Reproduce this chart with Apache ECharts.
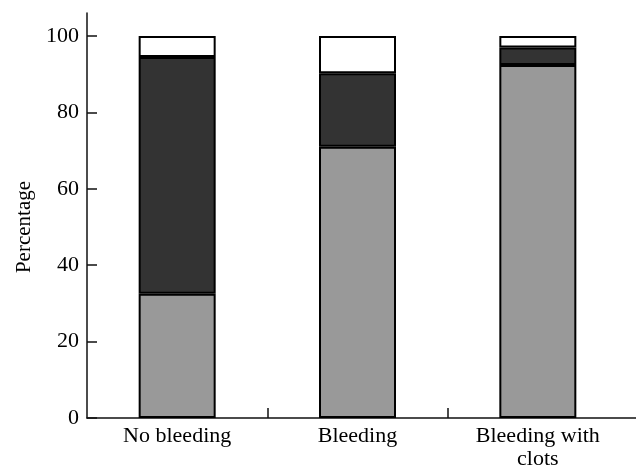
<!DOCTYPE html>
<html>
<head>
<meta charset="utf-8">
<script src="https://cdn.jsdelivr.net/npm/echarts@6/dist/echarts.min.js"></script>
<style>
html,body{margin:0;padding:0;background:#fff;}
#chart{width:636px;height:471px;}
</style>
</head>
<body>
<div id="chart"></div>
<script>
var categories = ['No bleeding', 'Bleeding', 'Bleeding with\nclots'];
var lightValues = [32.5, 71, 92.4];
var darkValues = [62, 19.2, 4.6];
var whiteValues = [5.5, 9.8, 3.0];
var yTicks = [0, 20, 40, 60, 80, 100];
var yTitle = 'Percentage';

var FONT = 'Liberation Serif';
var chart = echarts.init(document.getElementById('chart'), null, {renderer: 'canvas'});

function seg(name, data, color) {
  return {
    name: name, type: 'bar', stack: 'total', data: data,
    xAxisIndex: 0, yAxisIndex: 0,
    barWidth: 77,
    itemStyle: {color: color, borderColor: '#000', borderWidth: 2},
    emphasis: {disabled: true}
  };
}

var option = {
  animation: false,
  backgroundColor: '#fff',
  grid: [
    {left: 87, right: 8, top: 13, bottom: 53},
    {left: 87, right: 0, top: 13, bottom: 53}
  ],
  xAxis: [
    {
      type: 'category', gridIndex: 0, data: categories,
      axisLine: {show: false},
      axisTick: {show: false},
      axisLabel: {fontFamily: FONT, fontSize: 22, color: '#000', margin: 7, lineHeight: 23}
    },
    {
      type: 'value', gridIndex: 1, min: 0, max: 3 * 549 / 541,
      axisLine: {show: true, lineStyle: {color: '#111', width: 1.5}},
      axisTick: {show: true, inside: true, length: 10, customValues: [1, 2], lineStyle: {color: '#111', width: 1.5}},
      axisLabel: {show: false},
      splitLine: {show: false}
    }
  ],
  yAxis: [
    {
      type: 'value', gridIndex: 0, min: 0, max: 106,
      axisLine: {show: true, lineStyle: {color: '#111', width: 1.5}},
      axisTick: {show: true, inside: true, length: 10, customValues: yTicks, lineStyle: {color: '#111', width: 1.5}},
      axisLabel: {customValues: yTicks, fontFamily: FONT, fontSize: 22, color: '#000', margin: 8},
      splitLine: {show: false}
    },
    {
      type: 'value', gridIndex: 1, min: 0, max: 106, show: false
    }
  ],
  graphic: [
    {
      type: 'text',
      x: 24, y: 227,
      rotation: Math.PI / 2,
      style: {text: yTitle, font: '21px "Liberation Serif"', fill: '#000', textAlign: 'center', textVerticalAlign: 'middle'}
    }
  ],
  series: [
    seg('Gray', lightValues, '#999999'),
    seg('Dark', darkValues, '#333333'),
    seg('White', whiteValues, '#ffffff')
  ]
};
chart.setOption(option);
</script>
</body>
</html>
